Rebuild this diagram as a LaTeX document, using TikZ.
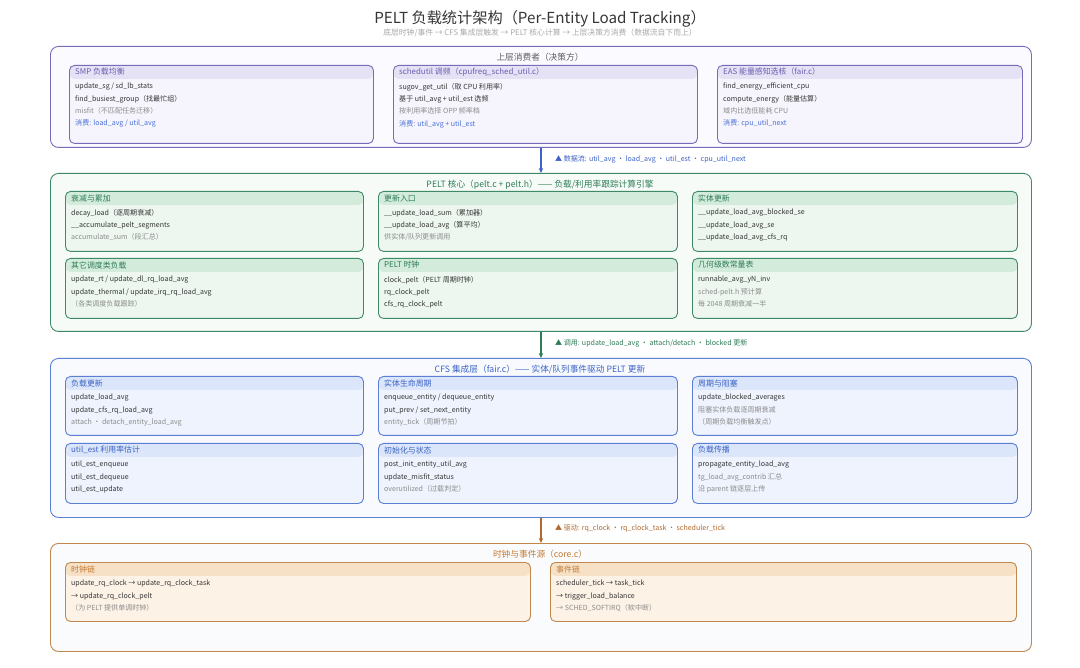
\documentclass[tikz,border=0pt]{standalone}
\usepackage{fontspec}
\setmainfont{Noto Sans CJK SC}
\usetikzlibrary{arrows.meta}

\definecolor{purline}{HTML}{7A6BB8}
\definecolor{purfill}{HTML}{FBFAFF}
\definecolor{purcard}{HTML}{F6F4FC}
\definecolor{purhead}{HTML}{E6E2F5}
\definecolor{purtext}{HTML}{6B5DB0}
\definecolor{grnline}{HTML}{3F8A66}
\definecolor{grnfill}{HTML}{F6FBF8}
\definecolor{grncard}{HTML}{EDF7F0}
\definecolor{grnhead}{HTML}{D3EBDB}
\definecolor{grntext}{HTML}{2E7D57}
\definecolor{bluline}{HTML}{5A7FD4}
\definecolor{blufill}{HTML}{F8FAFE}
\definecolor{blucard}{HTML}{EEF3FD}
\definecolor{bluhead}{HTML}{DCE6FA}
\definecolor{blutext}{HTML}{3A62C4}
\definecolor{orgline}{HTML}{C0874E}
\definecolor{orgfill}{HTML}{FAFBFD}
\definecolor{orgcard}{HTML}{FDF2E6}
\definecolor{orghead}{HTML}{F6E1C6}
\definecolor{orgtext}{HTML}{C47A35}
\definecolor{ink}{HTML}{363636}
\definecolor{mute}{HTML}{8C8C8C}
\definecolor{usecol}{HTML}{4A72D8}
\definecolor{bluarrow}{HTML}{3E63C8}
\definecolor{grnarrow}{HTML}{2E7D57}
\definecolor{orgarrow}{HTML}{B06A2E}

\begin{document}
\begin{tikzpicture}[x=1pt,y=-1pt]
    \tikzset{layer/.style={draw=#1line,fill=#1fill,rounded corners=8pt,line width=0.9pt,anchor=north west,inner sep=0pt}}
    \tikzset{card/.style={draw=#1line,fill=#1card,rounded corners=5pt,line width=0.9pt,anchor=north west,inner sep=0pt,
        path picture={\fill[#1head] (path picture bounding box.north west) rectangle ([yshift=-13.5pt]path picture bounding box.north east);}}}
    \tikzset{laytitle/.style={font=\fontsize{8.7}{10}\selectfont,inner sep=0pt}}
    \tikzset{headtxt/.style={font=\fontsize{7.9}{9}\selectfont,anchor=west,inner sep=0pt}}
    \tikzset{bodytxt/.style={font=\fontsize{7.05}{12.3}\selectfont,text=ink,align=left,anchor=north west,inner sep=0pt}}
    \tikzset{flowlbl/.style={font=\fontsize{7.05}{8}\selectfont,anchor=west,inner sep=0pt}}
    \tikzset{flow/.style={line width=1.4pt,-{Stealth[length=5pt,width=4.5pt]}}}

    \fill[white] (0,0) rectangle (1080,668);
    \useasboundingbox (0,0) rectangle (1080,668);

    % title
    \node[text=ink,font=\fontsize{15.2}{17}\selectfont] (title) at (540,19) {PELT 负载统计架构（Per-Entity Load Tracking）};
    \node[text=mute!75,font=\fontsize{7.8}{9}\selectfont] (subtitle) at (540,33) {底层时钟/事件 → CFS 集成层触发 → PELT 核心计算 → 上层决策方消费（数据流自下而上）};

    % consumers
    \node[layer=pur,minimum width=981pt,minimum height=101pt] (cons) at (50,46) {};
    \node[laytitle,text=ink!80] (consT) at (540,57) {上层消费者（决策方）};

    \node[card=pur,minimum width=304pt,minimum height=78pt] (smp) at (69,65) {};
    \node[headtxt,text=purtext] (smpH) at ([xshift=6pt,yshift=-7pt]smp.north west) {SMP 负载均衡};
    \node[bodytxt] (smpB) at ([xshift=6pt,yshift=-18pt]smp.north west) {update\_sg / sd\_lb\_stats\\find\_busiest\_group（找最忙组）\\\textcolor{mute}{misfit（不匹配任务迁移）}\\\textcolor{usecol}{消费: load\_avg / util\_avg}};

    \node[card=pur,minimum width=304pt,minimum height=78pt] (sugov) at (393,65) {};
    \node[headtxt,text=purtext] (sugovH) at ([xshift=6pt,yshift=-7pt]sugov.north west) {schedutil 调频（cpufreq\_sched\_util.c）};
    \node[bodytxt] (sugovB) at ([xshift=6pt,yshift=-18pt]sugov.north west) {sugov\_get\_util（取 CPU 利用率）\\基于 util\_avg + util\_est 选频\\\textcolor{mute}{按利用率选择 OPP 频率档}\\\textcolor{usecol}{消费: util\_avg + util\_est}};

    \node[card=pur,minimum width=305pt,minimum height=78pt] (eas) at (717,65) {};
    \node[headtxt,text=purtext] (easH) at ([xshift=6pt,yshift=-7pt]eas.north west) {EAS 能量感知选核（fair.c）};
    \node[bodytxt] (easB) at ([xshift=6pt,yshift=-18pt]eas.north west) {find\_energy\_efficient\_cpu\\compute\_energy（能量估算）\\\textcolor{mute}{域内比选低能耗 CPU}\\\textcolor{usecol}{消费: cpu\_util\_next}};

    % PELT core
    \node[layer=grn,minimum width=981pt,minimum height=158pt] (core) at (50,173) {};
    \node[laytitle,text=grntext] (coreT) at (540,185) {PELT 核心（pelt.c + pelt.h）—— 负载/利用率跟踪计算引擎};

    \node[card=grn,minimum width=298pt,minimum height=60pt] (decay) at (65,191) {};
    \node[headtxt,text=grntext] (decayH) at ([xshift=6pt,yshift=-7pt]decay.north west) {衰减与累加};
    \node[bodytxt] (decayB) at ([xshift=6pt,yshift=-18pt]decay.north west) {decay\_load（逐周期衰减）\\\_\_accumulate\_pelt\_segments\\\textcolor{mute}{accumulate\_sum（段汇总）}};

    \node[card=grn,minimum width=299pt,minimum height=60pt] (entry) at (378,191) {};
    \node[headtxt,text=grntext] (entryH) at ([xshift=6pt,yshift=-7pt]entry.north west) {更新入口};
    \node[bodytxt] (entryB) at ([xshift=6pt,yshift=-18pt]entry.north west) {\_\_update\_load\_sum（累加器）\\\_\_update\_load\_avg（算平均）\\\textcolor{mute}{供实体/队列更新调用}};

    \node[card=grn,minimum width=325pt,minimum height=60pt] (seupd) at (692,191) {};
    \node[headtxt,text=grntext] (seupdH) at ([xshift=6pt,yshift=-7pt]seupd.north west) {实体更新};
    \node[bodytxt] (seupdB) at ([xshift=6pt,yshift=-18pt]seupd.north west) {\_\_update\_load\_avg\_blocked\_se\\\_\_update\_load\_avg\_se\\\_\_update\_load\_avg\_cfs\_rq};

    \node[card=grn,minimum width=298pt,minimum height=60pt] (other) at (65,258) {};
    \node[headtxt,text=grntext] (otherH) at ([xshift=6pt,yshift=-7pt]other.north west) {其它调度类负载};
    \node[bodytxt] (otherB) at ([xshift=6pt,yshift=-18pt]other.north west) {update\_rt / update\_dl\_rq\_load\_avg\\update\_thermal / update\_irq\_rq\_load\_avg\\\textcolor{mute}{（各类调度负载跟踪）}};

    \node[card=grn,minimum width=299pt,minimum height=60pt] (pclk) at (378,258) {};
    \node[headtxt,text=grntext] (pclkH) at ([xshift=6pt,yshift=-7pt]pclk.north west) {PELT 时钟};
    \node[bodytxt] (pclkB) at ([xshift=6pt,yshift=-18pt]pclk.north west) {clock\_pelt（PELT 周期时钟）\\rq\_clock\_pelt\\cfs\_rq\_clock\_pelt};

    \node[card=grn,minimum width=325pt,minimum height=60pt] (ytab) at (692,258) {};
    \node[headtxt,text=grntext] (ytabH) at ([xshift=6pt,yshift=-7pt]ytab.north west) {几何级数常量表};
    \node[bodytxt] (ytabB) at ([xshift=6pt,yshift=-18pt]ytab.north west) {runnable\_avg\_yN\_inv\\\textcolor{mute}{sched-pelt.h 预计算}\\\textcolor{mute}{每 2048 周期衰减一半}};

    % CFS layer
    \node[layer=blu,minimum width=981pt,minimum height=159pt] (cfs) at (50,358) {};
    \node[laytitle,text=blutext] (cfsT) at (540,370) {CFS 集成层（fair.c）—— 实体/队列事件驱动 PELT 更新};

    \node[card=blu,minimum width=298pt,minimum height=59pt] (lupd) at (65,376) {};
    \node[headtxt,text=blutext] (lupdH) at ([xshift=6pt,yshift=-7pt]lupd.north west) {负载更新};
    \node[bodytxt] (lupdB) at ([xshift=6pt,yshift=-18pt]lupd.north west) {update\_load\_avg\\update\_cfs\_rq\_load\_avg\\\textcolor{mute}{attach · detach\_entity\_load\_avg}};

    \node[card=blu,minimum width=299pt,minimum height=59pt] (life) at (378,376) {};
    \node[headtxt,text=blutext] (lifeH) at ([xshift=6pt,yshift=-7pt]life.north west) {实体生命周期};
    \node[bodytxt] (lifeB) at ([xshift=6pt,yshift=-18pt]life.north west) {enqueue\_entity / dequeue\_entity\\put\_prev / set\_next\_entity\\\textcolor{mute}{entity\_tick（周期节拍）}};

    \node[card=blu,minimum width=325pt,minimum height=59pt] (blkd) at (692,376) {};
    \node[headtxt,text=blutext] (blkdH) at ([xshift=6pt,yshift=-7pt]blkd.north west) {周期与阻塞};
    \node[bodytxt] (blkdB) at ([xshift=6pt,yshift=-18pt]blkd.north west) {update\_blocked\_averages\\\textcolor{mute}{阻塞实体负载逐周期衰减}\\\textcolor{mute}{（周期负载均衡触发点）}};

    \node[card=blu,minimum width=298pt,minimum height=60pt] (uest) at (65,443) {};
    \node[headtxt,text=blutext] (uestH) at ([xshift=6pt,yshift=-7pt]uest.north west) {util\_est 利用率估计};
    \node[bodytxt] (uestB) at ([xshift=6pt,yshift=-18pt]uest.north west) {util\_est\_enqueue\\util\_est\_dequeue\\util\_est\_update};

    \node[card=blu,minimum width=299pt,minimum height=60pt] (init) at (378,443) {};
    \node[headtxt,text=blutext] (initH) at ([xshift=6pt,yshift=-7pt]init.north west) {初始化与状态};
    \node[bodytxt] (initB) at ([xshift=6pt,yshift=-18pt]init.north west) {post\_init\_entity\_util\_avg\\update\_misfit\_status\\\textcolor{mute}{overutilized（过载判定）}};

    \node[card=blu,minimum width=325pt,minimum height=60pt] (prop) at (692,443) {};
    \node[headtxt,text=blutext] (propH) at ([xshift=6pt,yshift=-7pt]prop.north west) {负载传播};
    \node[bodytxt] (propB) at ([xshift=6pt,yshift=-18pt]prop.north west) {propagate\_entity\_load\_avg\\\textcolor{mute}{tg\_load\_avg\_contrib 汇总}\\\textcolor{mute}{沿 parent 链逐层上传}};

    % clock sources
    \node[layer=org,minimum width=981pt,minimum height=108pt] (src) at (50,543) {};
    \node[laytitle,text=orgtext] (srcT) at (540,554) {时钟与事件源（core.c）};

    \node[card=org,minimum width=465pt,minimum height=59pt] (tick) at (65,562) {};
    \node[headtxt,text=orgtext] (tickH) at ([xshift=6pt,yshift=-7pt]tick.north west) {时钟链};
    \node[bodytxt] (tickB) at ([xshift=6pt,yshift=-18pt]tick.north west) {update\_rq\_clock → update\_rq\_clock\_task\\→ update\_rq\_clock\_pelt\\\textcolor{mute}{（为 PELT 提供单调时钟）}};

    \node[card=org,minimum width=466pt,minimum height=59pt] (evt) at (550,562) {};
    \node[headtxt,text=orgtext] (evtH) at ([xshift=6pt,yshift=-7pt]evt.north west) {事件链};
    \node[bodytxt] (evtB) at ([xshift=6pt,yshift=-18pt]evt.north west) {scheduler\_tick → task\_tick\\→ trigger\_load\_balance\\\textcolor{mute}{→ SCHED\_SOFTIRQ（软中断）}};

    % flows between layers
    \draw[flow,draw=bluarrow] (cons) -- (core);
    \draw[flow,draw=grnarrow] (core) -- (cfs);
    \draw[flow,draw=orgarrow] (cfs) -- (src);

    \node[flowlbl,text=bluarrow] (flow1) at (555,159) {▲ 数据流: util\_avg · load\_avg · util\_est · cpu\_util\_next};
    \node[flowlbl,text=grnarrow] (flow2) at (555,343) {▲ 调用: update\_load\_avg · attach/detach · blocked 更新};
    \node[flowlbl,text=orgarrow] (flow3) at (555,528) {▲ 驱动: rq\_clock · rq\_clock\_task · scheduler\_tick};
\end{tikzpicture}
\end{document}
